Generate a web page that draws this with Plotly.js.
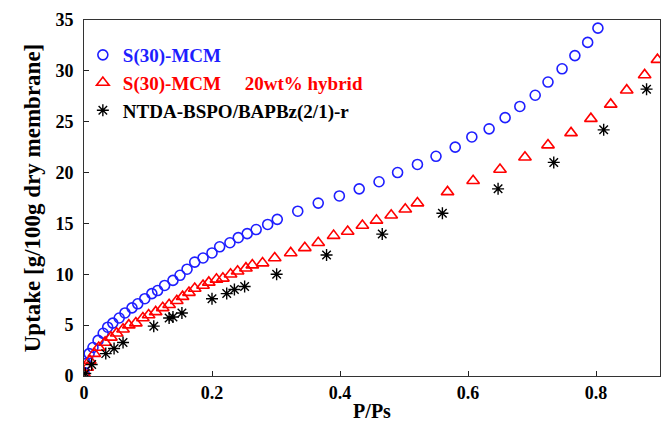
<!DOCTYPE html>
<html>
<head>
<meta charset="utf-8">
<script src="https://cdn.plot.ly/plotly-3.0.1.min.js"></script>
<style>html,body{margin:0;padding:0;background:#fff;}#chart{width:661px;height:422px;}</style>
</head>
<body>
<div id="chart"></div>
<script>
// S(30)-MCM (blue circles)
const mcmX = [0.000,0.003,0.008,0.014,0.022,0.030,0.037,0.045,0.055,0.064,0.075,0.084,0.095,0.106,0.115,0.126,0.139,0.150,0.161,0.173,0.186,0.200,0.212,0.228,0.241,0.255,0.269,0.287,0.302,0.334,0.366,0.399,0.430,0.461,0.490,0.521,0.550,0.580,0.606,0.633,0.658,0.681,0.705,0.725,0.747,0.767,0.787,0.803];
const mcmY = [0.34,1.22,2.2,2.8,3.5,4.2,4.8,5.2,5.7,6.2,6.7,7.1,7.6,8.1,8.4,8.9,9.4,9.9,10.5,11.2,11.6,12.1,12.7,13.1,13.6,14.0,14.4,14.9,15.4,16.2,17.0,17.7,18.4,19.1,20.0,20.8,21.6,22.5,23.5,24.3,25.4,26.5,27.6,28.9,30.2,31.5,32.8,34.2];

// S(30)-MCM 20wt% hybrid (red triangles)
const hybX = [0.000,0.005,0.009,0.016,0.023,0.033,0.042,0.051,0.061,0.070,0.081,0.092,0.101,0.112,0.123,0.133,0.145,0.154,0.164,0.173,0.186,0.195,0.207,0.217,0.229,0.240,0.253,0.263,0.279,0.298,0.323,0.345,0.366,0.390,0.412,0.435,0.457,0.480,0.502,0.521,0.568,0.608,0.650,0.689,0.725,0.761,0.792,0.823,0.848,0.876,0.896];
const hybY = [0.24,0.83,1.52,2.2,2.8,3.3,3.8,4.2,4.6,5.0,5.2,5.7,6.0,6.3,6.7,7.0,7.4,7.8,8.2,8.6,8.9,9.2,9.5,9.6,10.0,10.3,10.6,10.9,11.1,11.6,12.1,12.6,13.1,13.8,14.2,14.8,15.3,15.8,16.4,17.0,18.1,19.2,20.3,21.5,22.7,23.9,25.3,26.7,28.1,29.6,31.1];

// NTDA-BSPO/BAPBz(2/1)-r (black asterisks)
const ntdaX = [0.002,0.012,0.034,0.047,0.061,0.109,0.133,0.139,0.153,0.200,0.223,0.235,0.251,0.301,0.379,0.466,0.560,0.647,0.734,0.812,0.879];
const ntdaY = [0.25,1.13,2.2,2.7,3.3,4.9,5.7,5.8,6.2,7.6,8.1,8.5,8.8,10.0,11.9,13.95,16.0,18.4,21.0,24.2,28.2];

const xTicks = [0, 0.2, 0.4, 0.6, 0.8];
const xTickText = ['0', '0.2', '0.4', '0.6', '0.8'];
const yTicks = [0, 5, 10, 15, 20, 25, 30, 35];

const names = [
  '<span style="color:#1e1eff">S(30)-MCM</span>',
  '<span style="color:#ff0000">S(30)-MCM     20wt% hybrid</span>',
  '<span style="color:#000000">NTDA-BSPO/BAPBz(2/1)-r</span>'
];

const font = 'Liberation Serif, Times New Roman, serif';

const traces = [
  {x: mcmX, y: mcmY, name: names[0], mode: 'markers', type: 'scatter', legendgroup: 'a',
   marker: {symbol: 'circle-open', size: 10, color: '#1e1eff', line: {width: 1.6, color: '#1e1eff'}}},
  {x: hybX, y: hybY, name: names[1], mode: 'markers', type: 'scatter', legendgroup: 'b',
   marker: {symbol: 'triangle-up-open', size: 11, color: '#ff0000', line: {width: 1.6, color: '#ff0000'}}},
  {x: ntdaX, y: ntdaY, name: names[2], mode: 'markers', type: 'scatter', legendgroup: 'c',
   marker: {symbol: 'asterisk-open', size: 10, color: '#000000', line: {width: 1.4, color: '#000000'}}}
];

const layout = {
  width: 661, height: 422,
  margin: {l: 84, r: 1, t: 20, b: 46},
  paper_bgcolor: '#ffffff', plot_bgcolor: '#ffffff',
  font: {family: font, size: 18, color: '#000'},
  showlegend: true,
  legend: {x: -0.002, y: 0.955, xanchor: 'left', yanchor: 'top', bgcolor: 'rgba(0,0,0,0)',
           font: {family: font, size: 19, weight: 'bold'}, tracegroupgap: 0},
  xaxis: {range: [0, 0.9], tickvals: xTicks, ticktext: xTickText, ticks: 'inside', ticklen: 5,
          tickcolor: '#222', showline: true, mirror: true, linecolor: '#333', linewidth: 1,
          showgrid: false, zeroline: false,
          tickfont: {family: font, size: 18, weight: 'bold'},
          title: {text: 'P/Ps', font: {family: font, size: 20, weight: 'bold'}, standoff: 6}},
  yaxis: {range: [0, 35], tickvals: yTicks, ticks: 'inside', ticklen: 5,
          tickcolor: '#222', showline: true, mirror: true, linecolor: '#333', linewidth: 1,
          showgrid: false, zeroline: false, ticklabelstandoff: 6,
          tickfont: {family: font, size: 18, weight: 'bold'},
          title: {text: 'Uptake [g/100g dry membrane]', font: {family: font, size: 23, weight: 'bold'}, standoff: 8}}
};

Plotly.newPlot('chart', traces, layout, {displayModeBar: false, staticPlot: true});
</script>
</body>
</html>
